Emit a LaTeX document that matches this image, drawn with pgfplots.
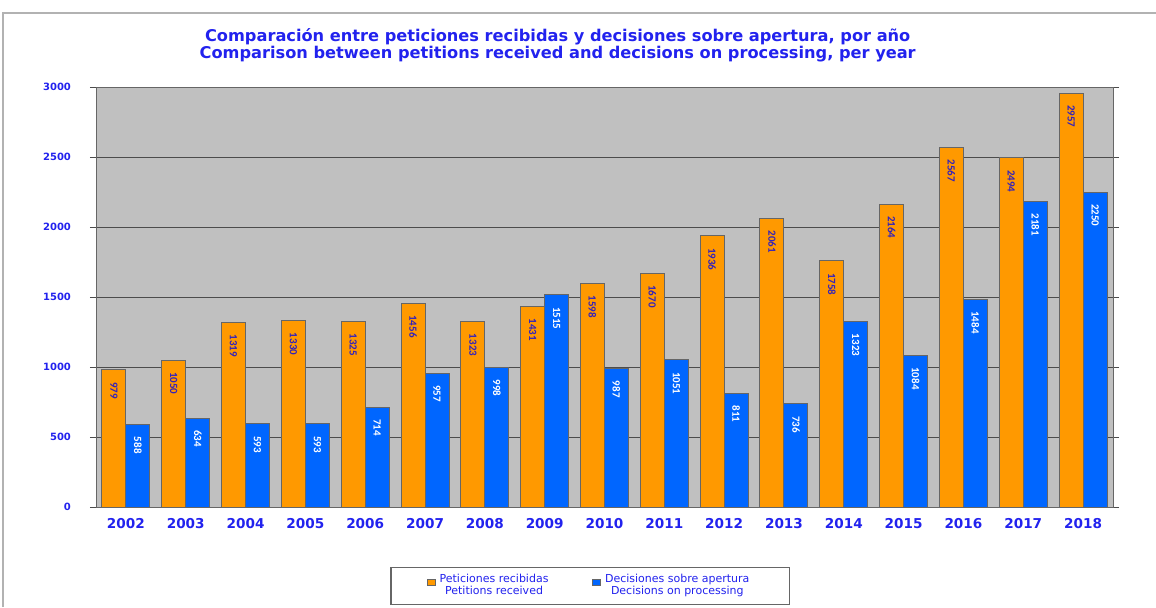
\documentclass[border=0pt]{standalone}
\usepackage{fontspec}
\setmainfont{DejaVu Sans}
\newfontfamily\carl{Carlito}
\usepackage{pgfplots}
\pgfplotsset{compat=1.18}
\definecolor{bgc}{HTML}{C0C0C0}
\definecolor{orc}{HTML}{FF9900}
\definecolor{blc}{HTML}{0066FF}
\definecolor{txc}{HTML}{2222EE}
\definecolor{lblc}{HTML}{3322BB}
\begin{document}
\begin{tikzpicture}
\path[use as bounding box] (0,0) rectangle (578pt,303.5pt);
\draw[gray!60, line width=0.6pt] (1.5pt,0) -- (1.5pt,297pt) -- (578pt,297pt);
\begin{axis}[
  at={(48pt,50pt)}, anchor=south west,
  scale only axis, width=508.5pt, height=210pt,
  ybar, bar width=12pt,
  xmin=-0.5, xmax=16.5, ymin=0, ymax=3000,
  xtick={0,...,16},
  xticklabels={2002,2003,2004,2005,2006,2007,2008,2009,2010,2011,2012,2013,2014,2015,2016,2017,2018},
  extra x ticks={-0.5,0.5,...,16.5},
  extra x tick labels={},
  extra x tick style={grid=none, major tick length=2pt, tick style={black!70}},
  ytick={0,500,...,3000},
  axis background/.style={fill=bgc},
  ymajorgrids, grid style={black!70, line width=0.5pt},
  axis line style={black!60},
  xtick style={draw=none},
  ytick style={black!70},
  tick align=outside, major tick length=3pt,
  /pgf/number format/assume math mode=true,
  /pgf/number format/1000 sep={},
  yticklabel style={xshift=-6pt, font=\fontsize{5}{6}\selectfont\bfseries, text=txc},
  xticklabel style={yshift=1pt, font=\fontsize{6.8}{7}\selectfont\bfseries, text=txc},
  title={Comparación entre peticiones recibidas y decisiones sobre apertura, por año\\Comparison between petitions received and decisions on processing, per year},
  title style={at={(0.454,1.071)}, anchor=center, align=center, font=\fontsize{8.1}{8.2}\selectfont\bfseries, text=txc},
  nodes near coords,
  nodes near coords style={rotate=-90, anchor=west, xshift=2.5pt, font=\carl\fontsize{5.5}{6}\selectfont\bfseries, /pgf/number format/1000 sep={}},
  legend columns=2,
  legend style={at={(0.486,-0.188)}, anchor=center, draw=black!60, line width=0.8pt,
    font=\fontsize{5.5}{5.8}\selectfont, text=txc,
    nodes={align=center},
    /tikz/every even column/.append style={column sep=20pt},
    inner xsep=18pt, inner ysep=1.5pt},
  legend image code/.code={\draw[#1, line width=0.3pt] (0pt,0.3pt) rectangle (4pt,3.3pt);},
]
\addplot[fill=orc, draw=black!60, line width=0.5pt, bar shift=-6pt,
  nodes near coords style={text=lblc}]
coordinates {(0,979) (1,1050) (2,1319) (3,1330) (4,1325) (5,1456) (6,1323) (7,1431) (8,1598) (9,1670) (10,1936) (11,2061) (12,1758) (13,2164) (14,2567) (15,2494) (16,2957)};
\addplot[fill=blc, draw=black!60, line width=0.5pt, bar shift=6pt,
  nodes near coords style={text=white}]
coordinates {(0,588) (1,634) (2,593) (3,593) (4,714) (5,957) (6,998) (7,1515) (8,987) (9,1051) (10,811) (11,736) (12,1323) (13,1084) (14,1484) (15,2181) (16,2250)};
\legend{Peticiones recibidas\\Petitions received, Decisiones sobre apertura\\Decisions on processing}
\end{axis}
\end{tikzpicture}
\end{document}
